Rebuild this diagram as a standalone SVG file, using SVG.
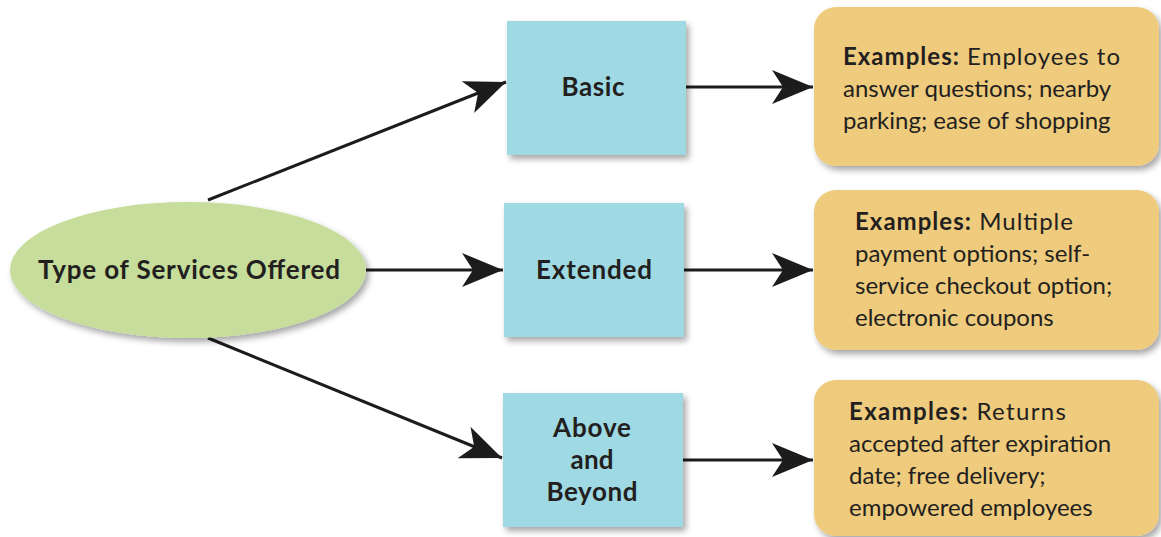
<svg xmlns="http://www.w3.org/2000/svg" width="1161" height="537" viewBox="0 0 1161 537">
  <style>
    .lbl { font-family: Lato, "Open Sans", sans-serif; fill: #231f20; }
    .b { font-weight: 700; }
    .ex { font-size: 24px; }
    .nd { font-size: 26px; font-weight: 700; text-anchor: middle; }
    .tier { fill: #9fd9e3; }
    .card { fill: #eecb7d; }
    .edge { stroke: #1c1c1c; stroke-width: 3; fill: none; marker-end: url(#head); }
  </style>
  <defs>
    <filter id="shade" x="-10%" y="-10%" width="125%" height="130%">
      <feDropShadow dx="3" dy="4" stdDeviation="3" flood-color="#000" flood-opacity="0.35"/>
    </filter>
    <marker id="head" markerUnits="userSpaceOnUse" markerWidth="44" markerHeight="36" refX="41" refY="17" orient="auto" viewBox="0 0 44 36">
      <path d="M0,0 L41,17 L0,34 L11,17 Z" fill="#1c1c1c"/>
    </marker>
  </defs>

  <rect width="1161" height="537" fill="#ffffff"/>

  <g id="connectors">
    <line class="edge" x1="208" y1="200" x2="506" y2="82"/>
    <line class="edge" x1="366" y1="270" x2="503" y2="270"/>
    <line class="edge" x1="208" y1="338" x2="502" y2="458"/>
    <line class="edge" x1="686" y1="87" x2="813" y2="87"/>
    <line class="edge" x1="684" y1="270" x2="813" y2="270"/>
    <line class="edge" x1="683" y1="460" x2="813" y2="460"/>
  </g>

  <g id="root">
    <ellipse cx="188" cy="270" rx="178" ry="68" fill="#c6dd9b" filter="url(#shade)"/>
    <text class="lbl nd" x="189" y="279" textLength="302" lengthAdjust="spacing">Type of Services Offered</text>
  </g>

  <g id="basic">
    <rect class="tier" x="507" y="21" width="179" height="134" filter="url(#shade)"/>
    <text class="lbl nd" x="593" y="96" textLength="63" lengthAdjust="spacing">Basic</text>
  </g>

  <g id="extended">
    <rect class="tier" x="504" y="203" width="180" height="134" filter="url(#shade)"/>
    <text class="lbl nd" x="594" y="279" textLength="116" lengthAdjust="spacing">Extended</text>
  </g>

  <g id="above-beyond">
    <rect class="tier" x="503" y="393" width="180" height="134" filter="url(#shade)"/>
    <text class="lbl nd" x="592" y="437" textLength="78" lengthAdjust="spacing">Above</text>
    <text class="lbl nd" x="592" y="469" textLength="43" lengthAdjust="spacing">and</text>
    <text class="lbl nd" x="592" y="501" textLength="91" lengthAdjust="spacing">Beyond</text>
  </g>

  <g id="basic-examples">
    <rect class="card" x="814" y="7" width="345" height="159" rx="22" filter="url(#shade)"/>
    <text class="lbl ex" x="843" y="65" textLength="277" lengthAdjust="spacing"><tspan class="b">Examples:</tspan> Employees to</text>
    <text class="lbl ex" x="843" y="97">answer questions; nearby</text>
    <text class="lbl ex" x="843" y="129">parking; ease of shopping</text>
  </g>

  <g id="extended-examples">
    <rect class="card" x="814" y="190" width="345" height="160" rx="22" filter="url(#shade)"/>
    <text class="lbl ex" x="855" y="230" textLength="218" lengthAdjust="spacing"><tspan class="b">Examples:</tspan> Multiple</text>
    <text class="lbl ex" x="855" y="262">payment options; self-</text>
    <text class="lbl ex" x="855" y="294">service checkout option;</text>
    <text class="lbl ex" x="855" y="326">electronic coupons</text>
  </g>

  <g id="above-beyond-examples">
    <rect class="card" x="814" y="380" width="345" height="156" rx="22" filter="url(#shade)"/>
    <text class="lbl ex" x="849" y="420" textLength="217" lengthAdjust="spacing"><tspan class="b">Examples:</tspan> Returns</text>
    <text class="lbl ex" x="849" y="452">accepted after expiration</text>
    <text class="lbl ex" x="849" y="484">date; free delivery;</text>
    <text class="lbl ex" x="849" y="516">empowered employees</text>
  </g>
</svg>
